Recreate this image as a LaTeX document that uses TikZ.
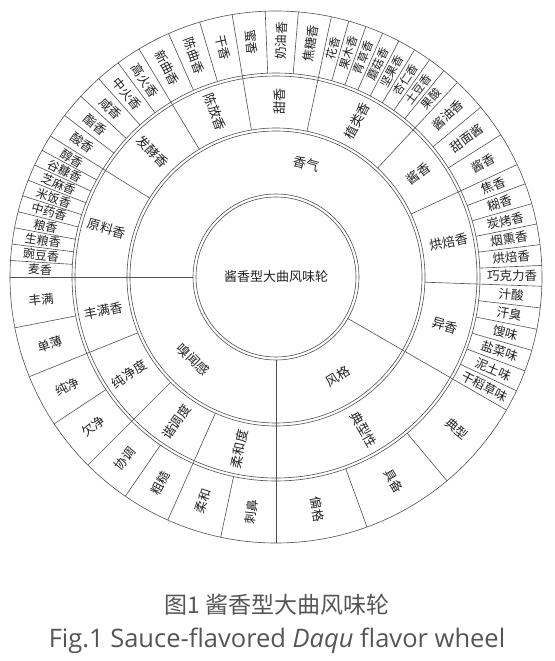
\documentclass[tikz,border=0pt]{standalone}
\usepackage{fontspec}
\setmainfont{Open Sans}
\newfontfamily\cjk{Noto Sans CJK SC}
\definecolor{linegray}{HTML}{505050}
\definecolor{txt}{HTML}{222222}
\definecolor{capgray}{HTML}{555555}
\newcounter{lbl}
\newcommand\radlabel[4]{% angle, radius, size, text
  \stepcounter{lbl}%
  \pgfmathsetmacro\rot{(#1>90)?(#1-180):(#1)}%
  \node[lab, font=\cjk\fontsize{#3}{#3}\selectfont, rotate=\rot] (t\thelbl) at ([shift={(#1:#2)}]O) {#4};}
\newcommand\tanlabel[3]{% angle, rotation, text
  \stepcounter{lbl}%
  \node[lab, font=\cjk\fontsize{13}{13}\selectfont, rotate=#2] (t\thelbl) at ([shift={(#1:117)}]O) {#3};}
\begin{document}
\begin{tikzpicture}[x=1pt,y=1pt,
  ring/.style={draw=linegray, line width=0.6pt},
  lab/.style={text=txt, inner sep=0pt}]
\useasboundingbox (0,0) rectangle (554,-661);
\coordinate (O) at (276,-277);
% rings
\foreach \r in {80,83,146,149,201,204,266} {\draw[ring] (O) circle[radius=\r];}
% level-1 boundaries
\foreach \a in {180,270,330} {\draw[ring] ([shift={(\a:83)}]O) -- ([shift={(\a:266)}]O);}
% level-2 boundaries
\foreach \a in {-2,25,47,78,99.5,121,148,202,225,246} {\draw[ring] ([shift={(\a:149)}]O) -- ([shift={(\a:266)}]O);}
% level-3 boundaries
\foreach \a in {-25.33,-20.67,-16,-11.33,-6.67,
                2.5,7,11.5,16,20.5,
                32.33,39.67,
                50.875,54.75,58.625,62.5,66.375,70.25,74.125,
                85.17,92.33,
                106.67,113.83,
                126.4,131.8,137.2,142.6,
                151.56,155.11,158.67,162.22,165.78,169.33,172.89,176.44,
                191,213.5,235.5,258,
                -70,-50}
  {\draw[ring] ([shift={(\a:204)}]O) -- ([shift={(\a:266)}]O);}
% centre
\node[lab, font=\cjk\fontsize{13}{13}\selectfont] (centre) at (O) {酱香型大曲风味轮};
% level 1
\tanlabel{75}{-15}{香气}
\tanlabel{-58}{32}{风格}
\tanlabel{225}{-45}{嗅闻感}
% level 2
\radlabel{-16}{176}{13}{异香}
\radlabel{11.5}{176}{13}{烘焙香}
\radlabel{36}{176}{13}{酱香}
\radlabel{62.5}{176}{13}{植类香}
\radlabel{88.75}{176}{13}{甜香}
\radlabel{110.25}{176}{13}{陈放香}
\radlabel{134.5}{176}{13}{发酵香}
\radlabel{164}{176}{13}{原料香}
\radlabel{191}{176}{13}{丰满香}
\radlabel{213.5}{176}{13}{纯净度}
\radlabel{235.5}{176}{13}{谐调度}
\radlabel{258}{176}{13}{柔和度}
\radlabel{-60}{176}{13}{典型性}
% level 3
\radlabel{-27.67}{236}{12.5}{干稻草味}
\radlabel{-23}{236}{12.5}{泥土味}
\radlabel{-18.33}{236}{12.5}{盐菜味}
\radlabel{-13.67}{236}{12.5}{馊味}
\radlabel{-9}{236}{12.5}{汗臭}
\radlabel{-4.33}{236}{12.5}{汁酸}
\radlabel{0.25}{236}{12.5}{巧克力香}
\radlabel{4.75}{236}{12.5}{烘焙香}
\radlabel{9.25}{236}{12.5}{烟熏香}
\radlabel{13.75}{236}{12.5}{炭烤香}
\radlabel{18.25}{236}{12.5}{糊香}
\radlabel{22.75}{236}{12.5}{焦香}
\radlabel{28.67}{236}{12.5}{酱香}
\radlabel{36}{236}{12.5}{甜面酱}
\radlabel{43.33}{236}{12.5}{酱油香}
\radlabel{48.94}{236}{11.5}{果酸}
\radlabel{52.81}{236}{11.5}{土豆香}
\radlabel{56.69}{236}{11.5}{杏仁香}
\radlabel{60.56}{236}{11.5}{坚果香}
\radlabel{64.44}{236}{11.5}{蘑菇香}
\radlabel{68.31}{236}{11.5}{青草香}
\radlabel{72.19}{236}{11.5}{果木香}
\radlabel{76.06}{236}{11.5}{花香}
\radlabel{81.58}{236}{12.5}{焦糖香}
\radlabel{88.75}{236}{12.5}{奶油香}
\radlabel{95.92}{236}{12.5}{蜜香}
\radlabel{103.08}{236}{12.5}{干香}
\radlabel{110.25}{236}{12.5}{陈曲香}
\radlabel{117.42}{236}{12.5}{新曲香}
\radlabel{123.7}{236}{12.5}{高火香}
\radlabel{129.1}{236}{12.5}{中火香}
\radlabel{134.5}{236}{12.5}{咸香}
\radlabel{139.9}{236}{12.5}{酯香}
\radlabel{145.3}{236}{12.5}{酸香}
\radlabel{149.78}{236}{12}{醇香}
\radlabel{153.33}{236}{12}{谷糠香}
\radlabel{156.89}{236}{12}{芝麻香}
\radlabel{160.44}{236}{12}{米饭香}
\radlabel{164}{236}{12}{中药香}
\radlabel{167.56}{236}{12}{粮香}
\radlabel{171.11}{236}{12}{生粮香}
\radlabel{174.67}{236}{12}{豌豆香}
\radlabel{178.22}{236}{12}{麦香}
\radlabel{185.5}{236}{12.5}{丰满}
\radlabel{196.5}{236}{12.5}{单薄}
\radlabel{207.75}{236}{12.5}{纯净}
\radlabel{219.25}{236}{12.5}{欠净}
\radlabel{230.25}{236}{12.5}{协调}
\radlabel{240.75}{236}{12.5}{粗糙}
\radlabel{252}{236}{12.5}{柔和}
\radlabel{264}{236}{12.5}{刺鼻}
\radlabel{-80}{236}{12.5}{偏格}
\radlabel{-60}{236}{12.5}{具备}
\radlabel{-40}{236}{12.5}{典型}
% captions
\node[font=\cjk\fontsize{23}{23}\selectfont, text=capgray, inner sep=0pt] (cap1) at (277,-605) {图1 酱香型大曲风味轮};
\node[font=\fontsize{25.5}{25.5}\selectfont, text=capgray, inner sep=0pt] (cap2) at (277,-641) {Fig.1 Sauce-flavored \textit{Daqu} flavor wheel};
\end{tikzpicture}
\end{document}
